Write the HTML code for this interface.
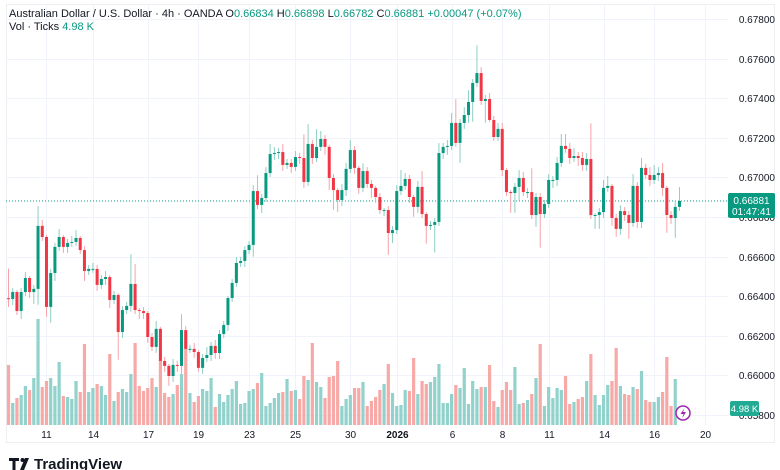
<!DOCTYPE html>
<html><head><meta charset="utf-8"><style>
html,body{margin:0;padding:0;background:#fff;width:780px;height:470px;overflow:hidden;font-family:"Liberation Sans",sans-serif}
svg{display:block}
</style></head><body>
<svg id="chart" width="780" height="470" xmlns="http://www.w3.org/2000/svg" font-family="Liberation Sans, sans-serif">
<rect x="6.5" y="4.5" width="768" height="438" fill="none" stroke="#eceef2"/>
<g id="grid"></g>
<g id="vol"></g>
<g id="candles"></g>
<g id="axes"></g>
<text x="9" y="17" font-size="11" fill="#131722">Australian Dollar / U.S. Dollar · 4h · OANDA <tspan>O</tspan><tspan fill="#089981">0.66834</tspan> <tspan>H</tspan><tspan fill="#089981">0.66898</tspan> <tspan>L</tspan><tspan fill="#089981">0.66782</tspan> <tspan>C</tspan><tspan fill="#089981">0.66881</tspan> <tspan fill="#089981">+0.00047 (+0.07%)</tspan></text>
<text x="9" y="30" font-size="11" fill="#131722">Vol · Ticks <tspan fill="#089981">4.98 K</tspan></text>
<g>
<rect x="728" y="193" width="47" height="25" rx="2" fill="#089981"/>
<text x="751.5" y="204" font-size="10" fill="#fff" text-anchor="middle">0.66881</text>
<text x="751.5" y="215" font-size="10" fill="#fff" text-anchor="middle">01:47:41</text>
</g>
<g>
<rect x="730" y="401" width="29" height="15" rx="2" fill="#22ab94"/>
<text x="744.5" y="412" font-size="9.5" fill="#fff" text-anchor="middle">4.98 K</text>
</g>
<g>
<circle cx="683" cy="413" r="7" fill="#fff" stroke="#9c27b0" stroke-width="1.5"/>
<path d="M684.5 408 L680.5 414 L683.5 414 L682 418.5 L686 412 L683 412 Z" fill="#9c27b0"/>
</g>
<g>
<path d="M9 458 h10 v3 h-3.5 v9 h-3 v-9 h-3.5 Z" fill="#131722"/>
<circle cx="22.5" cy="460" r="2" fill="#131722"/>
<path d="M25 458 h4 l-5 12 h-4 Z" fill="#131722"/>
<text x="34" y="469" font-size="15" font-weight="bold" fill="#131722">TradingView</text>
</g>
</svg>
<script>
const closes=[0.66386,0.66421,0.66325,0.66421,0.66492,0.66421,0.66437,0.66755,0.66699,0.66346,0.66517,0.66649,0.66699,0.66649,0.66669,0.66674,
0.66694,0.66633,0.66527,0.66538,0.66538,0.66457,0.66487,0.66497,0.66381,0.66406,0.66219,0.66330,0.66351,0.66462,0.66330,0.66325,
0.66315,0.66194,0.66144,0.66235,0.66073,0.66048,0.65997,0.66053,0.66048,0.66229,0.66134,0.66134,0.66118,0.66038,0.66088,0.66103,
0.66149,0.66113,0.66209,0.66255,0.66391,0.66467,0.66568,0.66578,0.66633,0.66659,0.66931,0.66861,0.66896,0.67022,0.67118,0.67123,
0.67128,0.67063,0.67073,0.67053,0.67103,0.67098,0.66977,0.67169,0.67098,0.67154,0.67194,0.67154,0.66997,0.66936,0.66886,0.66936,
0.67043,0.67138,0.67048,0.66947,0.67032,0.66967,0.66947,0.66901,0.66835,0.66835,0.66719,0.66734,0.66931,0.66957,0.66992,0.66901,
0.66851,0.66952,0.66815,0.66755,0.66760,0.66775,0.67123,0.67154,0.67159,0.67275,0.67174,0.67275,0.67315,0.67381,0.67477,0.67527,
0.67386,0.67396,0.67290,0.67204,0.67245,0.67037,0.66926,0.66921,0.66952,0.66997,0.66926,0.66926,0.66810,0.66901,0.66815,0.66866,
0.66987,0.66987,0.67073,0.67159,0.67144,0.67098,0.67108,0.67098,0.67063,0.67093,0.66810,0.66810,0.66825,0.66947,0.66957,0.66795,
0.66740,0.66830,0.66810,0.66770,0.66957,0.66775,0.67048,0.67012,0.66987,0.67012,0.67022,0.66947,0.66810,0.66795,0.66851,0.66881];
const firstOpen=0.66390;
const wickUpPips=[15,2,1,2,3,1,2,10,3,1,2,2,4,1,2,3, 4,1,2,2,3,2,2,3,1,2,1,2,2,15,10,1, 2,1,2,4,1,2,1,3,2,8,2,2,3,1,2,4,
2,3,2,2,1,2,3,2,2,2,3,8,2,3,5,3, 2,4,2,2,3,2,12,10,2,9,4,2,1,2,1,3, 3,5,2,1,4,2,2,1,2,1,2,2,3,8,3,2,
1,3,8,1,2,2,5,2,3,5,12,2,4,6,2,14, 3,2,3,2,3,3,1,1,2,4,3,2,12,2,2,2, 3,2,3,6,6,3,4,2,3,3,18,1,2,4,5,1, 2,3,2,2,6,2,5,2,4,5,3,5,1,2,3,7];
const wickDownPips=[4,3,2,4,2,3,6,8,2,5,8,4,2,3,3,2, 2,2,5,2,2,3,2,3,4,2,14,3,2,3,2,4, 3,3,2,3,2,3,5,3,3,4,3,2,3,2,3,2,
3,3,3,2,3,2,2,2,3,2,6,2,4,2,2,3, 3,3,2,3,2,3,3,2,3,2,2,4,6,10,6,3, 3,2,3,3,2,2,5,3,2,3,11,5,2,2,2,3,
5,3,2,9,2,14,2,3,4,2,2,10,3,4,10,2, 2,11,1,2,2,3,2,10,10,7,2,3,2,6,17,2, 2,4,3,2,2,3,2,4,3,3,2,7,7,3,2,4, 4,3,3,8,2,3,3,2,3,2,3,4,9,3,10,2];
const volumesHundreds=[60,22,27,30,39,35,47,106,38,44,47,39,63,29,28,26,44,33,81,33,37,41,39,30,71,24,33,36,33,51,82,39,34,37,47,38,65,32,28,31,40,51,94,32,23,29,36,34,47,18,31,23,30,36,44,21,22,34,36,42,52,19,22,27,32,33,46,34,35,26,49,45,82,43,38,27,48,49,64,19,26,30,
37,37,43,19,24,28,35,41,61,32,19,20,35,34,67,31,44,41,43,48,61,22,22,31,40,37,57,21,44,36,38,38,60,24,18,35,43,35,58,21,22,25,31,47,81,19,38,27,37,35,49,21,23,26,28,44,71,30,20,30,40,44,77,39,31,30,38,36,54,25,23,23,28,33,68,19,46];
const priceTicks=[0.678,0.676,0.674,0.672,0.670,0.668,0.666,0.664,0.662,0.660,0.658];
const dateLabels=["11","14","17","19","23","25","30","2026","6","8","11","14","16","20"];
const dateIndex=[9,20,33,45,57,68,81,92,105,117,128,141,153,165];

const NS="http://www.w3.org/2000/svg";
const PLOT_L=6,PLOT_R=728;
function xOf(i){return 8.5+i*4.22;}
function yOf(p){return 19+(0.678-p)/0.002*39.6;}
function yVol(v){return 425-v;}
function mk(tag,attrs,parent){const e=document.createElementNS(NS,tag);for(const k in attrs)e.setAttribute(k,attrs[k]);parent.appendChild(e);return e;}
const grid=document.getElementById('grid'),axes=document.getElementById('axes'),vol=document.getElementById('vol'),cg=document.getElementById('candles');

priceTicks.forEach(p=>{
  const y=Math.round(yOf(p))+0.5;
  const l=mk('line',{x1:PLOT_L,x2:PLOT_R,y1:y,y2:y,stroke:'#f0f3fa'},grid);
  
  
  const t=mk('text',{x:775,y:y+3.5,'font-size':10,fill:'#131722','text-anchor':'end'},axes);
  t.textContent=p.toFixed(5);
  
  
});
dateLabels.forEach((d,k)=>{
  const x=Math.round(xOf(dateIndex[k]))+0.5;
  const l=mk('line',{x1:x,x2:x,y1:5,y2:425,stroke:'#f0f3fa'},grid);
  
  
  const t=mk('text',{x:x,y:438,'font-size':10,fill:'#131722','text-anchor':'middle','font-weight':d==='2026'?'bold':'normal'},axes);
  t.textContent=d;
  
  
});
const lastY=yOf(closes[closes.length-1]);
const dl=mk('line',{x1:PLOT_L,x2:PLOT_R,y1:lastY,y2:lastY,stroke:'#089981','stroke-dasharray':'1 2','stroke-width':1},grid);



closes.forEach((c,i)=>{
  const o=i===0?firstOpen:closes[i-1];
  const up=c>=o;
  const hi=Math.max(o,c)+wickUpPips[i]*0.0001;
  const lo=Math.min(o,c)-wickDownPips[i]*0.0001;
  const x=xOf(i);
  const v=volumesHundreds[i];
  const vb=mk('rect',{x:x-1.6,y:yVol(v),width:3.2,height:425-yVol(v),fill:up?'#92d2cc':'#f7a9a7'},vol);
  
  
  const col=up?'#089981':'#f23645';
  const w=mk('line',{x1:x,x2:x,y1:yOf(hi),y2:yOf(lo),stroke:up?'#8ccfc3':'#f7a3a8','stroke-width':1},cg);
  
  
  const top=yOf(Math.max(o,c)),bot=yOf(Math.min(o,c));
  const b=mk('rect',{x:x-1.5,y:top,width:3,height:Math.max(1,bot-top),fill:col},cg);
  
  
});
</script>
</body></html>
